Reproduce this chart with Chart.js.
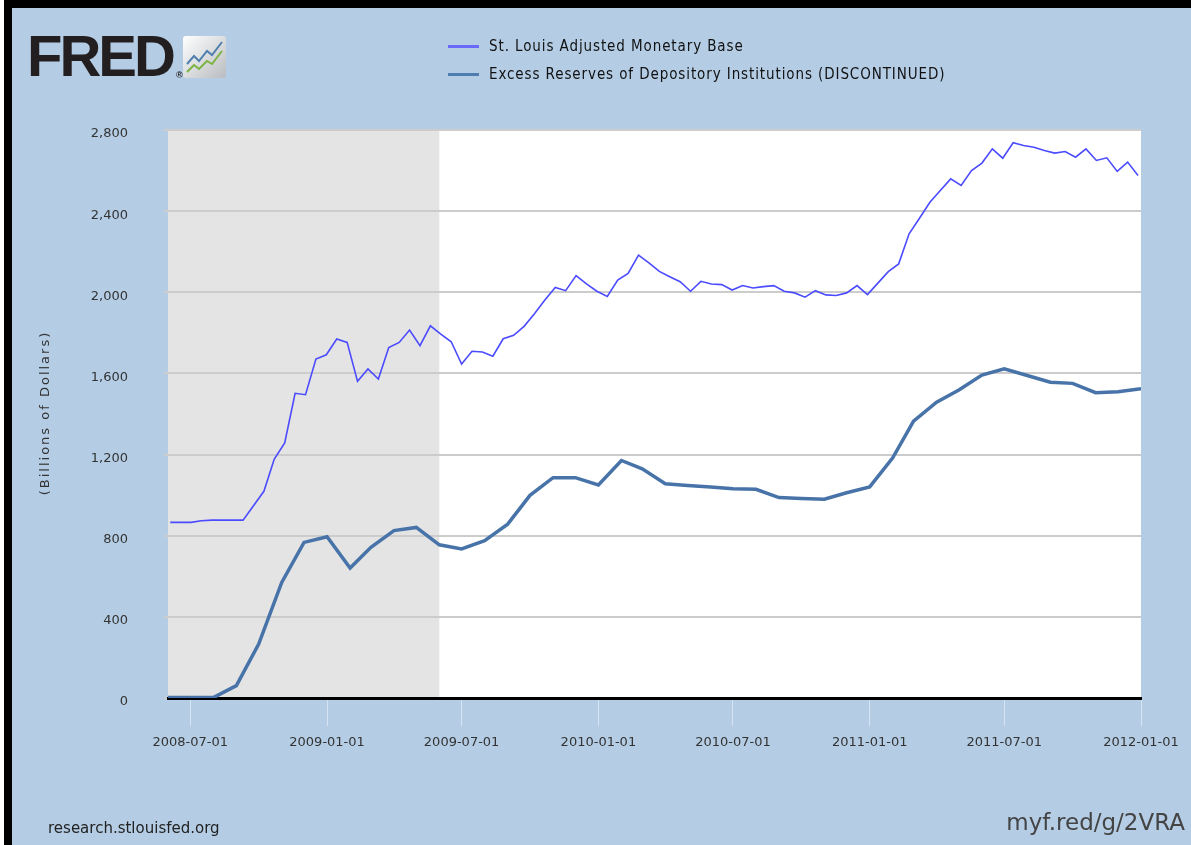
<!DOCTYPE html>
<html>
<head>
<meta charset="utf-8">
<script src="https://cdn.jsdelivr.net/npm/chart.js@4.4.1/dist/chart.umd.min.js"></script>
<style>
  html, body { margin: 0; padding: 0; background: #fff; width: 1191px; height: 845px; overflow: hidden; }
  #frame { position: absolute; left: 4px; top: 0; width: 1187px; height: 845px; box-sizing: border-box;
           border-top: 8px solid #000; border-left: 8px solid #000; background: #b4cde5; }
  #chart { position: absolute; left: 0; top: 0; }
  #logo { position: absolute; left: 27px; top: 22px; font-family: "Liberation Sans", Arial, sans-serif;
          font-weight: bold; font-size: 58px; letter-spacing: -3px; color: #231f20; }
  #logo sup { font-size: 9px; letter-spacing: 0; vertical-align: -2px; margin-left: 3px; }
  #icon { position: absolute; left: 183px; top: 36px; }
  #legend { position: absolute; left: 448px; top: 32px; font-family: "DejaVu Sans Condensed", "DejaVu Sans", sans-serif;
            font-size: 15px; color: #111; letter-spacing: 0.9px; }
  #legend div { height: 28px; display: flex; align-items: center; }
  #legend span.sw { display: inline-block; width: 31px; height: 3px; margin-right: 10px; }
  #src { position: absolute; left: 48px; top: 819px; font-family: "DejaVu Sans", sans-serif; font-size: 15px; color: #222; }
  #url { position: absolute; right: 6px; top: 809px; font-family: "DejaVu Sans", sans-serif; font-size: 23px; color: #444; }
</style>
</head>
<body>
<div id="frame"></div>
<canvas id="chart" width="1191" height="845"></canvas>
<div id="logo">FRED<sup>®</sup></div>
<svg id="icon" width="43" height="42" viewBox="0 0 43 42">
  <defs>
    <linearGradient id="g" x1="0" y1="0" x2="1" y2="1">
      <stop offset="0" stop-color="#ffffff"/><stop offset="1" stop-color="#b9bcc0"/>
    </linearGradient>
  </defs>
  <rect x="0" y="0" width="43" height="42" rx="3" fill="url(#g)"/>
  <polyline points="4,28 11,20 16,25 24,15 29,19 39,6" fill="none" stroke="#4f7fae" stroke-width="2"/>
  <polyline points="4,36 11,29 16,33 24,25 29,28 39,15" fill="none" stroke="#7cb342" stroke-width="2"/>
</svg>
<div id="legend"></div>
<div id="src">research.stlouisfed.org</div>
<div id="url">myf.red/g/2VRA</div>
<script>
const seriesNames = ['St. Louis Adjusted Monetary Base', 'Excess Reserves of Depository Institutions (DISCONTINUED)'];
const seriesColors = ['#4b4bff', '#4773a8'];
const legendColors = ['#6a6aff', '#4f7db0'];
const yAxisTitle = '(Billions of Dollars)';

// biweekly observations, first one on 2008-06-04
const baseStart = '2008-06-04';
const baseStepDays = 14;
const baseValues = [
  866, 866, 866, 874, 877, 877, 877, 877, 948, 1019, 1178, 1257, 1502, 1495, 1671, 1692,
  1770, 1753, 1561, 1622, 1572, 1728, 1753, 1814, 1737, 1835, 1794, 1756, 1646, 1709, 1706, 1685,
  1771, 1788, 1832, 1894, 1962, 2024, 2008, 2082, 2041, 2005, 1979, 2060, 2093, 2183, 2145, 2103,
  2077, 2052, 2005, 2054, 2041, 2038, 2011, 2033, 2021, 2028, 2033, 2005, 1997, 1976, 2008, 1987,
  1984, 1997, 2033, 1989, 2045, 2102, 2140, 2288, 2365, 2444, 2502, 2559, 2527, 2600, 2637, 2707,
  2661, 2737, 2724, 2715, 2699, 2686, 2694, 2666, 2707, 2650, 2663, 2596, 2642, 2576
];

// monthly observations, first one 2008-06
const reservesStart = [2008, 6];
const reservesValues = [
  2, 2, 2, 61, 266, 570, 767,
  795, 641, 743, 825, 841, 755, 735, 776, 857, 999, 1086, 1086,
  1050, 1171, 1130, 1056, 1048, 1040, 1032, 1029, 988, 983, 980, 1012,
  1041, 1184, 1365, 1458, 1518, 1592, 1623, 1590, 1557, 1551, 1505, 1510,
  1524
];

const xTickLabels = ['2008-07-01', '2009-01-01', '2009-07-01', '2010-01-01', '2010-07-01', '2011-01-01', '2011-07-01', '2012-01-01'];
const yTicks = [0, 400, 800, 1200, 1600, 2000, 2400, 2800];
const xRange = ['2008-06-01', '2012-01-01'];
const recession = ['2007-12-01', '2009-06-01'];

const DAY = 86400000;
const baseData = baseValues.map((v, i) => ({ x: Date.parse(baseStart) + i * baseStepDays * DAY, y: v }));
const reservesData = reservesValues.map((v, i) => ({
  x: Date.UTC(reservesStart[0], reservesStart[1] - 1 + i, 1), y: v
}));

// legend
const legendEl = document.getElementById('legend');
seriesNames.forEach((name, i) => {
  const row = document.createElement('div');
  row.innerHTML = '<span class="sw" style="background:' + legendColors[i] + '"></span>' + name;
  legendEl.appendChild(row);
});

const plotBg = {
  id: 'plotBg',
  beforeDraw(chart) {
    const { ctx, chartArea: a, scales: { x } } = chart;
    ctx.save();
    ctx.fillStyle = '#ffffff';
    ctx.fillRect(a.left, a.top, a.right - a.left, a.bottom - a.top);
    const x0 = Math.max(a.left, x.getPixelForValue(Date.parse(recession[0])));
    const x1 = Math.min(a.right, x.getPixelForValue(Date.parse(recession[1])));
    ctx.fillStyle = '#e4e4e4';
    ctx.fillRect(x0, a.top, x1 - x0, a.bottom - a.top);
    ctx.restore();
  },
  // spaced-out axis title like the FRED image
  afterDraw(chart) {
    const { ctx, chartArea: a } = chart;
    ctx.save();
    ctx.translate(46, (a.top + a.bottom) / 2 - 1);
    ctx.rotate(-Math.PI / 2);
    ctx.font = '13px "DejaVu Sans"';
    ctx.letterSpacing = '2px';
    ctx.fillStyle = '#333';
    ctx.textAlign = 'center';
    ctx.textBaseline = 'middle';
    ctx.fillText(yAxisTitle, 0, 0);
    ctx.restore();
  }
};

const tickFont = { family: 'DejaVu Sans', size: 13 };

new Chart(document.getElementById('chart'), {
  type: 'line',
  data: {
    datasets: [
      { label: seriesNames[0], data: baseData, borderColor: seriesColors[0], borderWidth: 1.6,
        pointRadius: 0, tension: 0, fill: false },
      { label: seriesNames[1], data: reservesData, borderColor: seriesColors[1], borderWidth: 3.5,
        pointRadius: 0, tension: 0, fill: false }
    ]
  },
  options: {
    responsive: false,
    animation: false,
    layout: { padding: { left: 36, top: 130, right: 50, bottom: 87 } },
    plugins: { legend: { display: false }, tooltip: { enabled: false } },
    scales: {
      x: {
        type: 'linear',
        min: Date.parse(xRange[0]),
        max: Date.parse(xRange[1]),
        afterBuildTicks: s => { s.ticks = xTickLabels.map(d => ({ value: Date.parse(d) })); },
        afterFit: s => { s.height = 60; },
        ticks: {
          autoSkip: false, maxRotation: 0, padding: 9, color: '#333', font: tickFont,
          callback: v => new Date(v).toISOString().slice(0, 10)
        },
        grid: { drawOnChartArea: false, tickLength: 28, color: 'rgba(255,255,255,0.45)', lineWidth: 1 },
        border: { color: '#000', width: 3 }
      },
      y: {
        min: 0,
        max: 2800,
        afterBuildTicks: s => { s.ticks = yTicks.map(v => ({ value: v })); },
        afterFit: s => { s.width = 132; },
        ticks: { padding: 36, labelOffset: 4, color: '#333', font: tickFont, callback: v => v.toLocaleString('en-US') },
        grid: { color: '#cccccc', lineWidth: 2, tickLength: 4 },
        border: { display: false }
      }
    }
  },
  plugins: [plotBg]
});
</script>
</body>
</html>
